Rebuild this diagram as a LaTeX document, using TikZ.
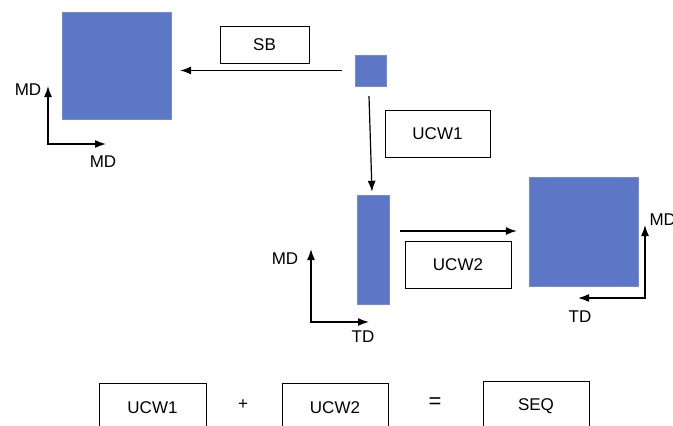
\documentclass[tikz,border=0pt]{standalone}
\usepackage{fontspec}
\setmainfont{Liberation Sans}
\usetikzlibrary{arrows.meta}
\definecolor{sheet}{RGB}{91,119,198}
\tikzset{
	film/.style={fill=sheet, draw=sheet!85!white, inner sep=0pt},
	tag/.style={draw, thick, inner sep=0pt},
	axis/.style={line width=1.5pt, {Latex[length=11pt,width=8pt]}-{Latex[length=11pt,width=8pt]}},
	flow/.style={line width=1.2pt, -{Latex[length=11pt,width=8pt]}}
}

\begin{document}
\begin{tikzpicture}[x=1pt, y=-1pt, font=\fontsize{17}{19}\selectfont]
\useasboundingbox (0,0) rectangle (673,426);
\clip (0,0) rectangle (673,426);

% sheets
\node[film, minimum width=109pt, minimum height=107pt] (big) at (116.5,65.5) {};
\node[film, minimum width=31pt, minimum height=31pt] (small) at (370.5,70.5) {};
\node[film, minimum width=32pt, minimum height=109pt] (tall) at (373,249.5) {};
\node[film, minimum width=109pt, minimum height=109pt] (wide) at (583.5,231.5) {};

% labels
\node[tag, minimum width=89pt, minimum height=37pt] (sb) at (264.5,44.5) {SB};
\node[tag, minimum width=105pt, minimum height=47pt] (ucwa) at (437.5,133.5) {UCW1};
\node[tag, minimum width=106pt, minimum height=47pt] (ucwb) at (458,264.5) {UCW2};

% steps
\draw[flow] ([xshift=-13pt]small.west) -- ([xshift=9pt,yshift=-5pt]big.east);
\draw[flow] ([xshift=-1.5pt,yshift=-10pt]small.south) -- ([xshift=-1pt,yshift=3pt]tall.north);
\draw[flow] ([xshift=11pt,yshift=18.5pt]tall.east) -- ([xshift=-12pt,yshift=0.5pt]wide.west);

% directions
\coordinate (y1) at (48,86);
\coordinate (x1) at (106,144);
\coordinate (y2) at (311,249);
\coordinate (x2) at (369,322);
\coordinate (y3) at (645,225);
\coordinate (x3) at (578,298);
\foreach \i in {1,2,3}
{
	\draw[axis] (y\i) |- (x\i);
};
\node (md1) at (28,90) {MD};
\node (md2) at (103,162) {MD};
\node (md3) at (285,259) {MD};
\node (td1) at (363,337) {TD};
\node[anchor=west] (md4) at (646,220) {MD};
\node (td2) at (580,317) {TD};

% sum
\node[tag, minimum width=107pt, minimum height=50pt] (sa) at (152.5,408) {UCW1};
\node (plus) at (243,405) {+};
\node[tag, minimum width=106pt, minimum height=50pt] (sc) at (335,408) {UCW2};
\node (eq) at (435,403) {\fontsize{22}{24}\selectfont =};
\node[tag, minimum width=106pt, minimum height=50pt] (sq) at (536,406) {SEQ};
\end{tikzpicture}
\end{document}
